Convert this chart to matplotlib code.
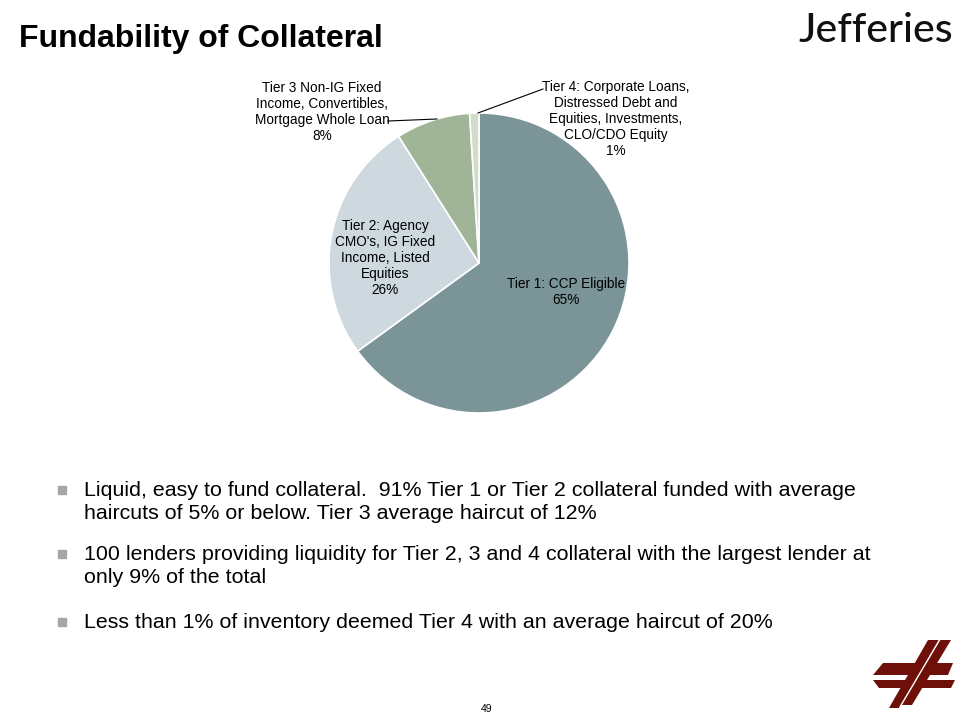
import matplotlib.pyplot as plt
from matplotlib.patches import Polygon, Rectangle

plt.rcParams['font.family'] = ['Liberation Sans', 'DejaVu Sans']

# data
tiers = ['Tier 1: CCP Eligible',
         "Tier 2: Agency\nCMO's, IG Fixed\nIncome, Listed\nEquities",
         'Tier 3 Non-IG Fixed\nIncome, Convertibles,\nMortgage Whole Loan',
         'Tier 4: Corporate Loans,\nDistressed Debt and\nEquities, Investments,\nCLO/CDO Equity']
shares = [65, 26, 8, 1]
colors = ['#7a9497', '#cdd8df', '#a0b498', '#d3dccb']

bullets = [
    'Liquid, easy to fund collateral.  91% Tier 1 or Tier 2 collateral funded with average\nhaircuts of 5% or below. Tier 3 average haircut of 12%',
    '100 lenders providing liquidity for Tier 2, 3 and 4 collateral with the largest lender at\nonly 9% of the total',
    'Less than 1% of inventory deemed Tier 4 with an average haircut of 20%',
]

W, H = 960, 720
fig = plt.figure(figsize=(9.6, 7.2), dpi=100)


def fx(x):
    return x / W


def fy(y):
    return 1 - y / H


# title + brand
fig.text(fx(19), fy(39), 'Fundability of Collateral', fontsize=23, fontweight='bold',
         va='center', ha='left')
fig.text(fx(953), fy(31), 'Jefferies', fontsize=29.5, family=['Lato', 'DejaVu Sans'],
         fontweight='medium', va='center', ha='right', color='#111111')

# pie
cx, cy, r = 479, 263, 150
ax = fig.add_axes([fx(cx - r), fy(cy + r), 2 * r / W, 2 * r / H])
wedges, _ = ax.pie(shares, colors=colors, startangle=90, counterclock=False,
                   wedgeprops=dict(edgecolor='white', linewidth=1.2))
ax.set_aspect('equal')
ax.set_xlim(-1, 1)
ax.set_ylim(-1, 1)
ax.axis('off')

lab_fs = 9.8
ls = 1.17
fig.text(fx(566), fy(292), tiers[0] + '\n%d%%' % shares[0], fontsize=lab_fs,
         ha='center', va='center', linespacing=ls)
fig.text(fx(385), fy(258), tiers[1] + '\n%d%%' % shares[1], fontsize=lab_fs,
         ha='center', va='center', linespacing=ls)
fig.text(fx(322), fy(112), tiers[2] + '\n%d%%' % shares[2], fontsize=lab_fs,
         ha='center', va='center', linespacing=ls)
fig.text(fx(616), fy(119), tiers[3] + '\n%d%%' % shares[3], fontsize=lab_fs,
         ha='center', va='center', linespacing=ls)

# leader lines
fig.add_artist(plt.Line2D([fx(388), fx(437)], [fy(121), fy(119)], color='black', lw=0.8))
fig.add_artist(plt.Line2D([fx(543), fx(478)], [fy(89), fy(113)], color='black', lw=0.8))

# bullets
ys = [502, 566, 622]
for y, b in zip(ys, bullets):
    first = y if '\n' not in b else y - 12
    fig.add_artist(Rectangle((fx(58), fy(first + 4)), 8 / W, 8 / H, color='#a6a6a6',
                             transform=fig.transFigure))
    fig.text(fx(84), fy(y), b, fontsize=15.4, va='center', ha='left', linespacing=1.28)

# page number
fig.text(fx(487), fy(709), '49', fontsize=7.5, ha='center', va='center')

# red logo mark
red = '#6e1009'
shapes = [
    [(883, 663), (953, 663), (948, 675), (873, 675)],
    [(873, 680), (955, 680), (951, 688), (879, 688)],
    [(928, 640), (939, 640), (899, 708), (889, 708)],
    [(940, 640), (951, 640), (912, 705), (901, 705)],
]
for pts in shapes:
    fig.add_artist(Polygon([(fx(a), fy(b)) for a, b in pts], closed=True,
                           transform=fig.transFigure, color=red, lw=0))
fig.add_artist(plt.Line2D([fx(939.5), fx(900)], [fy(640), fy(707)], color='white', lw=1.0))

fig.savefig('out.png', dpi=100)
